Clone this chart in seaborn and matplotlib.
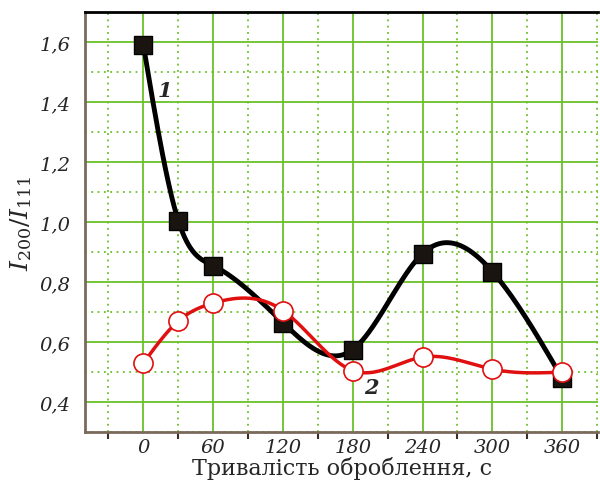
import numpy as np
import pandas as pd
import matplotlib
matplotlib.use("Agg")
import matplotlib.pyplot as plt
import seaborn as sns
from matplotlib.ticker import MultipleLocator, FuncFormatter

# data
time_s = [0, 30, 60, 120, 180, 240, 300, 360]
ratio_1 = [1.59, 1.005, 0.855, 0.665, 0.575, 0.895, 0.835, 0.48]
ratio_2 = [0.53, 0.67, 0.73, 0.705, 0.505, 0.55, 0.51, 0.50]
x_ticks = [0, 60, 120, 180, 240, 300, 360]
y_ticks = [0.4, 0.6, 0.8, 1.0, 1.2, 1.4, 1.6]


def natural_spline(x, y, n=400):
    # smooth curve through the points (natural cubic spline)
    x = np.asarray(x, float)
    y = np.asarray(y, float)
    k = len(x)
    h = np.diff(x)
    A = np.zeros((k, k))
    b = np.zeros(k)
    A[0, 0] = A[-1, -1] = 1
    for i in range(1, k - 1):
        A[i, i - 1] = h[i - 1]
        A[i, i] = 2 * (h[i - 1] + h[i])
        A[i, i + 1] = h[i]
        b[i] = 6 * ((y[i + 1] - y[i]) / h[i] - (y[i] - y[i - 1]) / h[i - 1])
    M = np.linalg.solve(A, b)
    xs = np.linspace(x[0], x[-1], n)
    idx = np.clip(np.searchsorted(x, xs) - 1, 0, k - 2)
    x0, x1 = x[idx], x[idx + 1]
    hh = x1 - x0
    t0, t1 = x1 - xs, xs - x0
    ys = (M[idx] * t0**3 + M[idx + 1] * t1**3) / (6 * hh) \
        + (y[idx] / hh - M[idx] * hh / 6) * t0 \
        + (y[idx + 1] / hh - M[idx + 1] * hh / 6) * t1
    return xs, ys


sns.set_style("white")
plt.rcParams['font.family'] = ['DejaVu Serif']
plt.rcParams['mathtext.fontset'] = 'dejavuserif'

fig = plt.figure(figsize=(6, 4.85), dpi=100)
ax = fig.add_axes([0.142, 0.107, 0.855, 0.866])

green = '#6abf2a'
ax.xaxis.set_minor_locator(MultipleLocator(30))
ax.yaxis.set_minor_locator(MultipleLocator(0.1))
ax.grid(True, which='major', color=green, lw=1.3, ls='-')
ax.grid(True, which='minor', color=green, lw=1.3, ls=(0, (1, 2.5)))
ax.set_axisbelow(True)

xs1, ys1 = natural_spline(time_s, ratio_1)
xs2, ys2 = natural_spline(time_s, ratio_2)
curve1 = pd.DataFrame({'t': xs1, 'r': ys1})
curve2 = pd.DataFrame({'t': xs2, 'r': ys2})

sns.lineplot(data=curve1, x='t', y='r', ax=ax, color='black', lw=3.5, zorder=3)
sns.scatterplot(x=time_s, y=ratio_1, ax=ax, marker='s', s=150, color='#1a1410',
                edgecolor='black', linewidth=1, zorder=4)
sns.lineplot(data=curve2, x='t', y='r', ax=ax, color='#e01010', lw=2.5, zorder=5)
sns.scatterplot(x=time_s, y=ratio_2, ax=ax, marker='o', s=190, color='white',
                edgecolor='#e01010', linewidth=1.2, zorder=6)

ax.set_xlim(-50, 391)
ax.set_ylim(0.3, 1.7)
ax.set_xticks(x_ticks)
ax.set_yticks(y_ticks)
ax.yaxis.set_major_formatter(FuncFormatter(lambda v, p: f"{v:.1f}".replace('.', ',')))
ax.tick_params(axis='both', which='major', labelsize=14)
ax.tick_params(axis='y', which='major', length=7, width=1.2, color='#3a2e25', direction='out')
ax.tick_params(axis='x', which='major', length=0, pad=4)
ax.tick_params(axis='x', which='minor', bottom=True, length=5, width=1.5, color='#3a2e25', direction='out')
for lab in ax.get_xticklabels() + ax.get_yticklabels():
    lab.set_fontstyle('italic')

for side in ['left', 'bottom']:
    ax.spines[side].set_color('#7a6a5c')
    ax.spines[side].set_linewidth(2)
ax.spines['top'].set_color('black')
ax.spines['top'].set_linewidth(2)
ax.spines['right'].set_visible(False)

ax.set_xlabel('Тривалість оброблення, с', fontsize=16, labelpad=0)
ax.set_ylabel(r'$I_{200}/I_{111}$', fontsize=18, labelpad=4)

ax.text(12, 1.42, '1', fontsize=15, style='italic', fontweight='bold')
ax.text(190, 0.43, '2', fontsize=15, style='italic', fontweight='bold')

fig.savefig('out.png', dpi=100)
